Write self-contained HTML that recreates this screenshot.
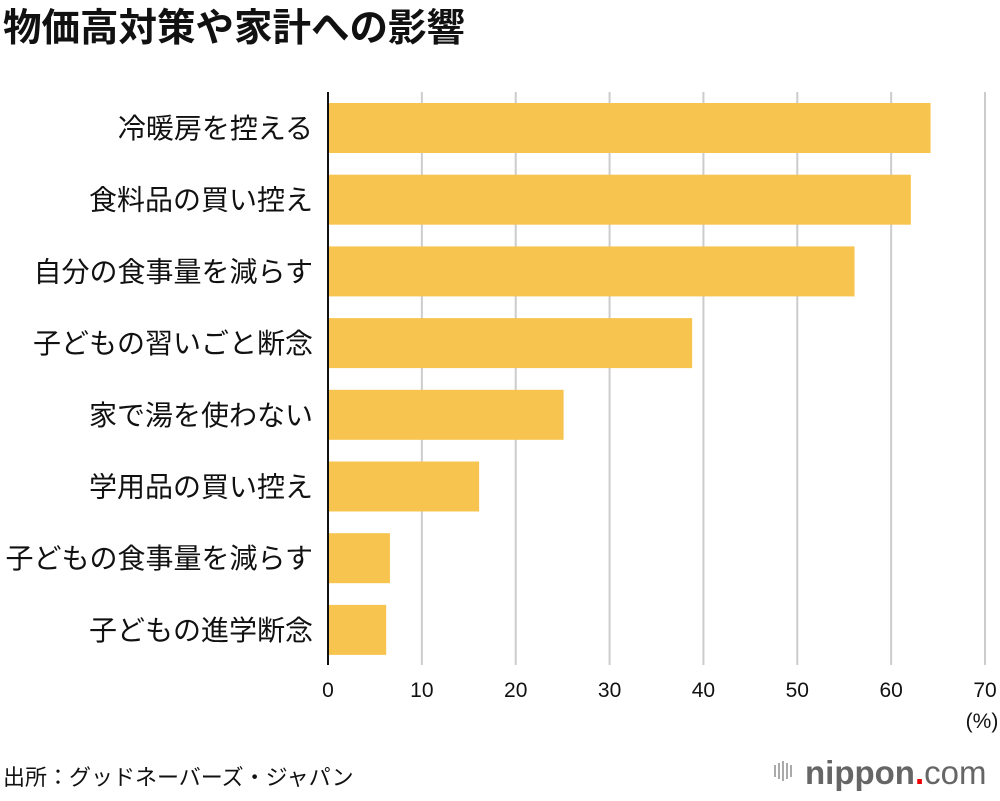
<!DOCTYPE html>
<html><head><meta charset="utf-8"><style>
body{margin:0;background:#fff;width:1000px;height:796px;overflow:hidden;font-family:"Liberation Sans","Noto Sans CJK JP",sans-serif}
</style></head><body>
<svg width="1000" height="796" xmlns="http://www.w3.org/2000/svg" font-family="Liberation Sans, Noto Sans CJK JP, sans-serif">
<text x="3" y="41" font-size="38.5" font-weight="bold" fill="#111">物価高対策や家計への影響</text>
<g id="grid"></g><g id="bars"></g><g id="labels"></g><g id="ticks"></g>
<line x1="328" y1="92" x2="328" y2="665" stroke="#111" stroke-width="2"/>
<text x="982" y="728" font-size="21" text-anchor="middle" fill="#111">(%)</text>
<text x="3" y="785" font-size="22" fill="#111">出所：グッドネーバーズ・ジャパン</text>
<g>
<g fill="#aaa"><rect x="774" y="765" width="2" height="12"/><rect x="778" y="763" width="2" height="16"/><rect x="782" y="761" width="2" height="20"/><rect x="786" y="763" width="2" height="16"/><rect x="790" y="765" width="2" height="12"/></g>
<text x="805" y="784" font-size="33" fill="#666" font-weight="bold">nippon<tspan fill="#e00">.</tspan><tspan font-weight="normal">com</tspan></text>
</g>
</svg>
<script>
const categories=["冷暖房を控える","食料品の買い控え","自分の食事量を減らす","子どもの習いごと断念","家で湯を使わない","学用品の買い控え","子どもの食事量を減らす","子どもの進学断念"];
const values=[64.2,62.1,56.1,38.8,25.1,16.1,6.6,6.2];
const tickValues=[0,10,20,30,40,50,60,70];
const NS="http://www.w3.org/2000/svg";
const x0=328,xMax=985,vMax=70;
const xs=v=>x0+(xMax-x0)*v/vMax;
const ys=i=>103+i*71.7;
function mk(tag,attrs,parent){const e=document.createElementNS(NS,tag);for(const k in attrs)e.setAttribute(k,attrs[k]);document.getElementById(parent).appendChild(e);return e;}
tickValues.forEach(t=>{
 if(t>0){const g=mk('line',{x1:xs(t),x2:xs(t),y1:92,y2:665,stroke:'#ccc','stroke-width':2},'grid');
 
 }
 const l=mk('text',{x:xs(t),y:697,'font-size':21,'text-anchor':'middle',fill:'#111'},'ticks');
 l.textContent=t;
 
 
});
categories.forEach((c,i)=>{
 const b=mk('rect',{x:x0,y:ys(i),width:xs(values[i])-x0,height:50,fill:'#f7c44f'},'bars');
 
 
 const t=mk('text',{x:313,y:ys(i)+35,'font-size':28,'text-anchor':'end',fill:'#111'},'labels');
 t.textContent=c;
 
 
});
</script>
</body></html>
